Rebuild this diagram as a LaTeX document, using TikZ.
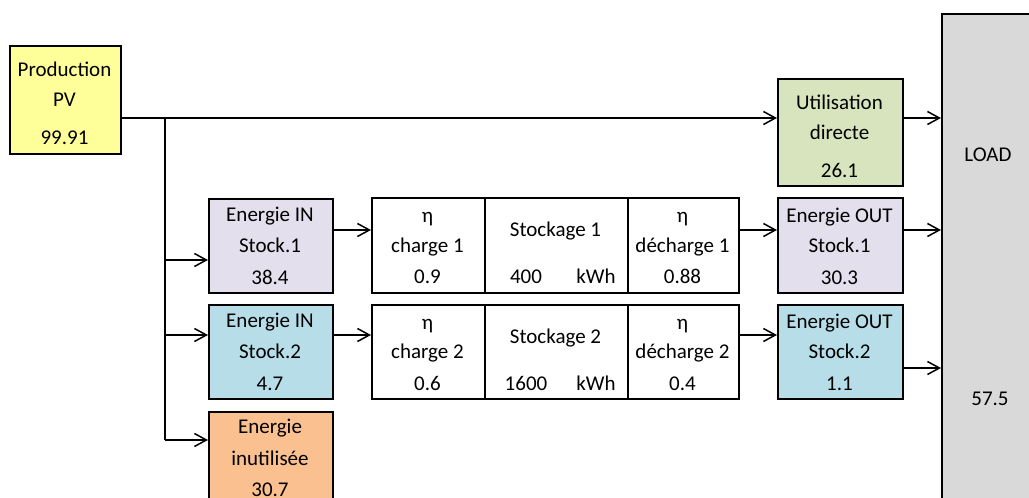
\documentclass[tikz,border=0pt]{standalone}
\usepackage{fontspec}
\setmainfont{Carlito}
\usetikzlibrary{arrows.meta}
\definecolor{pvyel}{HTML}{FFFF99}
\definecolor{lav}{HTML}{E4DFEC}
\definecolor{lblue}{HTML}{B7DEE8}
\definecolor{orng}{HTML}{FAC090}
\definecolor{lgreen}{HTML}{D7E4BD}
\definecolor{lgray}{HTML}{D9D9D9}
\tikzset{
  box/.style={draw, line width=1.5pt, rectangle, inner sep=0pt, anchor=north west},
  txt/.style={anchor=base, inner sep=0pt, font=\fontsize{21}{25}\selectfont},
  conn/.style={line width=1.5pt},
  arr/.style={line width=1.5pt, -{Straight Barb[length=12pt,width=13pt,line width=1.5pt]}}
}
\begin{document}
\begin{tikzpicture}[x=1pt,y=-1pt]
\useasboundingbox (0,0) rectangle (1029,498);
\clip (0,0) rectangle (1029,498);
\fill[white] (0,0) rectangle (1029,498);
% boxes
\node[box, fill=pvyel, minimum width=111pt, minimum height=108pt] (pv) at (9,45) {};
\node[box, fill=lgreen, minimum width=125pt, minimum height=107pt] (util) at (777,78) {};
\node[box, fill=lgray, minimum width=110pt, minimum height=520pt] (load) at (941,13) {};
\node[box, fill=lav, minimum width=124pt, minimum height=94pt] (in1) at (208,198) {};
\node[box, fill=lblue, minimum width=124pt, minimum height=94pt] (in2) at (208,304) {};
\node[box, fill=orng, minimum width=124pt, minimum height=110pt] (inu) at (208,411) {};
\node[box, fill=white, minimum width=113pt, minimum height=95pt] (c1) at (371,197) {};
\node[box, fill=white, minimum width=143pt, minimum height=95pt] (s1) at (484,197) {};
\node[box, fill=white, minimum width=111pt, minimum height=95pt] (d1) at (627,197) {};
\node[box, fill=white, minimum width=113pt, minimum height=94pt] (c2) at (371,304) {};
\node[box, fill=white, minimum width=143pt, minimum height=94pt] (s2) at (484,304) {};
\node[box, fill=white, minimum width=111pt, minimum height=94pt] (d2) at (627,304) {};
\node[box, fill=lav, minimum width=125pt, minimum height=95pt] (out1) at (777,197) {};
\node[box, fill=lblue, minimum width=125pt, minimum height=94pt] (out2) at (777,304) {};
% texts
\node[txt] (t1) at (64.5,76) {Production};
\node[txt] (t2) at (64.5,106) {PV};
\node[txt] (t3) at (64.5,144) {99.91};
\node[txt] (t4) at (839.5,109) {Utilisation};
\node[txt] (t5) at (839.5,139) {directe};
\node[txt] (t6) at (839.5,177) {26.1};
\node[txt] (t7) at (988,161) {LOAD};
\node[txt] (t8) at (990,405) {57.5};
\node[txt] (t9) at (270,221) {Energie IN};
\node[txt] (t10) at (270,252) {Stock.1};
\node[txt] (t11) at (270,284) {38.4};
\node[txt] (t12) at (270,327) {Energie IN};
\node[txt] (t13) at (270,358) {Stock.2};
\node[txt] (t14) at (270,390) {4.7};
\node[txt] (t15) at (270,433) {Energie};
\node[txt] (t16) at (270,465) {inutilisée};
\node[txt] (t17) at (270,496) {30.7};
\node[txt] (t18) at (427.5,222) {η};
\node[txt] (t19) at (427.5,252) {charge 1};
\node[txt] (t20) at (427.5,283) {0.9};
\node[txt] (t21) at (555.5,236) {Stockage 1};
\node[txt] (t22) at (526,283) {400};
\node[txt] (t23) at (596,283) {kWh};
\node[txt] (t24) at (682.5,222) {η};
\node[txt] (t25) at (682.5,252) {décharge 1};
\node[txt] (t26) at (682.5,283) {0.88};
\node[txt] (t27) at (427.5,329) {η};
\node[txt] (t28) at (427.5,358) {charge 2};
\node[txt] (t29) at (427.5,390) {0.6};
\node[txt] (t30) at (555.5,343) {Stockage 2};
\node[txt] (t31) at (526,390) {1600};
\node[txt] (t32) at (596,390) {kWh};
\node[txt] (t33) at (682.5,329) {η};
\node[txt] (t34) at (682.5,358) {décharge 2};
\node[txt] (t35) at (682.5,390) {0.4};
\node[txt] (t36) at (839.5,222) {Energie OUT};
\node[txt] (t37) at (839.5,252) {Stock.1};
\node[txt] (t38) at (839.5,284) {30.3};
\node[txt] (t39) at (839.5,328) {Energie OUT};
\node[txt] (t40) at (839.5,358) {Stock.2};
\node[txt] (t41) at (839.5,390) {1.1};
% connector helper coordinates
\coordinate (j) at (165,118);
\coordinate (b1) at (165,260);
\coordinate (b2) at (165,335);
\coordinate (b3) at (165,440);
\coordinate (r1) at (0,230);
\coordinate (r2) at (0,335);
\coordinate (r3) at (0,368);
% connectors
\draw[arr] (pv.east |- j) -- (util.west |- j);
\draw[arr] (util.east |- j) -- (load.west |- j);
\draw[conn] (j) -- (b3);
\draw[arr] (b1) -- (in1.west |- b1);
\draw[arr] (b2) -- (in2.west |- b2);
\draw[arr] (b3) -- (inu.west |- b3);
\draw[arr] (in1.east |- r1) -- (c1.west |- r1);
\draw[arr] (d1.east |- r1) -- (out1.west |- r1);
\draw[arr] (out1.east |- r1) -- (load.west |- r1);
\draw[arr] (in2.east |- r2) -- (c2.west |- r2);
\draw[arr] (d2.east |- r2) -- (out2.west |- r2);
\draw[arr] (out2.east |- r3) -- (load.west |- r3);
\end{tikzpicture}
\end{document}
